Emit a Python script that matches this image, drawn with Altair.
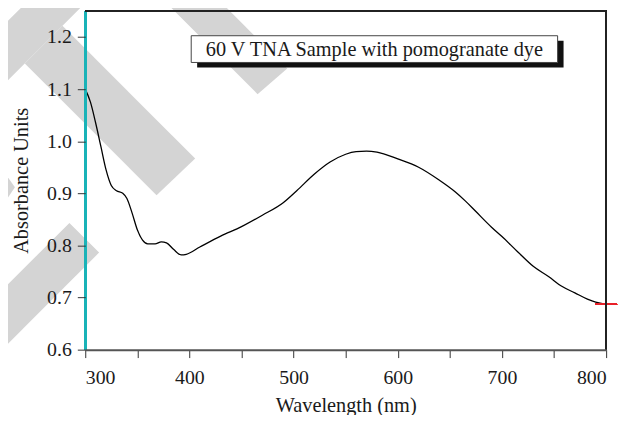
import altair as alt
import pandas as pd

# ---- data ----
wavelength = [300, 305, 310, 315, 320, 325, 330, 336, 340, 345, 350, 355, 360, 367,
              373, 378, 385, 392, 397, 410, 430, 450, 470, 490, 503, 520, 535, 550,
              560, 570, 580, 600, 620, 640, 655, 665, 675, 690, 700, 715, 730, 745,
              757, 770, 782, 790, 800]
absorbance = [1.100, 1.075, 1.035, 0.990, 0.945, 0.915, 0.905, 0.900, 0.890, 0.862,
              0.830, 0.810, 0.803, 0.803, 0.807, 0.805, 0.792, 0.782, 0.783, 0.797,
              0.818, 0.836, 0.858, 0.882, 0.905, 0.937, 0.960, 0.975, 0.980, 0.981,
              0.979, 0.966, 0.950, 0.925, 0.903, 0.885, 0.865, 0.835, 0.817, 0.788,
              0.760, 0.740, 0.722, 0.709, 0.697, 0.691, 0.687]

x_ticks = [300, 350, 400, 450, 500, 550, 600, 650, 700, 750, 800]
y_ticks = [0.6, 0.65, 0.7, 0.75, 0.8, 0.85, 0.9, 0.95, 1.0, 1.05, 1.1, 1.15, 1.2, 1.25]
legend_text = "60 V TNA Sample with pomogranate dye"
x_title = "Wavelength (nm)"
y_title = "Absorbance Units"

X0, X1 = 300, 800
Y0, Y1 = 0.6, 1.25
W, H = 526, 342
PAD_L, PAD_T = 78, 1
FONT = "Liberation Serif"

# page-pixel -> data helpers for decorations
def px_x(px):
    return X0 + (px - 8 - PAD_L) * (X1 - X0) / W

def px_y(py):
    return Y0 + (8 + PAD_T + H - py) * (Y1 - Y0) / H

# grey watermark stripes (page pixel polygons, each x-monotone)
watermark_polys = [
    [(-40, 67), (37, -10), (97, -10), (-40, 127)],
    [(25, 62), (63, 24), (197, 158), (158, 195)],
    [(70, 223), (100, 253), (-20, 373), (-50, 343)],
    [(-8, 155), (15, 187), (-8, 221)],
    [(157, -10), (260, 93), (290, 67), (213, -10)],
    [(300, -41), (347, 6), (377, -24), (330, -71)],
]

rows = []
for pid, poly in enumerate(watermark_polys):
    xs = sorted(set(p[0] for p in poly))
    n = len(poly)
    for xv in xs:
        ys = []
        for i in range(n):
            (x1, y1), (x2, y2) = poly[i], poly[(i + 1) % n]
            if x1 == x2:
                if x1 == xv:
                    ys += [y1, y2]
                continue
            if min(x1, x2) <= xv <= max(x1, x2):
                ys.append(y1 + (y2 - y1) * (xv - x1) / (x2 - x1))
        rows.append({"pid": pid, "x": px_x(xv), "ytop": px_y(min(ys)), "ybot": px_y(max(ys))})
wm_df = pd.DataFrame(rows)

curve_df = pd.DataFrame({"wavelength": wavelength, "absorbance": absorbance})

xscale = alt.Scale(domain=[X0, X1], nice=False, zero=False)
yscale = alt.Scale(domain=[Y0, Y1], nice=False, zero=False)

x_axis = alt.Axis(values=x_ticks, labelExpr="datum.value % 100 == 0 ? datum.label : ''",
                  title=x_title, grid=False, tickSize=8, tickColor="#333",
                  domainColor="#555", domainWidth=2, labelPadding=10, titlePadding=8, zindex=1)
y_axis = alt.Axis(values=y_ticks, format=".1f",
                  labelExpr="abs(round(datum.value*100) % 10) < 0.5 ? datum.label : ''",
                  title=y_title, grid=False, tickSize=8, tickColor="#333",
                  domain=False, labelPadding=6, titlePadding=15, zindex=1)

watermark = alt.Chart(wm_df).mark_area(color="#d4d4d4", clip=False, opacity=1).encode(
    x=alt.X("x:Q", scale=xscale, axis=x_axis),
    y=alt.Y("ytop:Q", scale=yscale, axis=y_axis),
    y2="ybot:Q",
    detail="pid:N",
)

line = alt.Chart(curve_df).mark_line(color="black", strokeWidth=1.3, interpolate="monotone").encode(
    x=alt.X("wavelength:Q", scale=xscale),
    y=alt.Y("absorbance:Q", scale=yscale),
)

cyan = alt.Chart(curve_df).mark_rule(color="#1ab3b8", strokeWidth=2.2).encode(
    x=alt.datum(X0), y=alt.datum(Y0), y2=alt.datum(Y1)
)

red = alt.Chart(curve_df).mark_rule(color="#e8202a", strokeWidth=1.4, clip=False).encode(
    x=alt.datum(px_x(601)), x2=alt.datum(px_x(623)), y=alt.datum(absorbance[-1])
)

frame_top = alt.Chart(curve_df).mark_rule(color="#222", strokeWidth=1.2).encode(
    x=alt.value(0), x2=alt.value(W), y=alt.value(0)
)
frame_right = alt.Chart(curve_df).mark_rule(color="#222", strokeWidth=1.2).encode(
    x=alt.value(W), y=alt.value(0), y2=alt.value(H)
)

box = pd.DataFrame([{"x": px_x(193), "x2": px_x(563), "y": px_y(34), "y2": px_y(61),
                     "sx": px_x(199), "sx2": px_x(569), "sy": px_y(39), "sy2": px_y(66),
                     "tx": px_x(378), "ty": px_y(54), "label": legend_text}])

shadow = alt.Chart(box).mark_rect(color="#111").encode(
    x="sx:Q", x2="sx2:Q", y="sy:Q", y2="sy2:Q"
)
legend_box = alt.Chart(box).mark_rect(fill="white", stroke="#444", strokeWidth=1).encode(
    x="x:Q", x2="x2:Q", y="y:Q", y2="y2:Q"
)
legend_label = alt.Chart(box).mark_text(font=FONT, fontSize=20.5, color="#1a1a1a",
                                        align="center", baseline="alphabetic").encode(
    x="tx:Q", y="ty:Q", text="label:N"
)

chart = alt.layer(
    watermark, shadow, legend_box, legend_label, line, cyan, red, frame_top, frame_right
).properties(
    width=W, height=H,
    autosize=alt.AutoSizeParams(type="none"),
    padding={"left": PAD_L, "top": PAD_T, "right": 15, "bottom": 64},
    background="white",
).configure_view(stroke=None).configure_axis(
    labelFont=FONT, titleFont=FONT, labelFontSize=20, titleFontSize=20.5,
    labelColor="#1a1a1a", titleColor="#1a1a1a", titleFontWeight="normal",
)

chart.save("out.html", embed_options={"renderer": "svg", "actions": False})
